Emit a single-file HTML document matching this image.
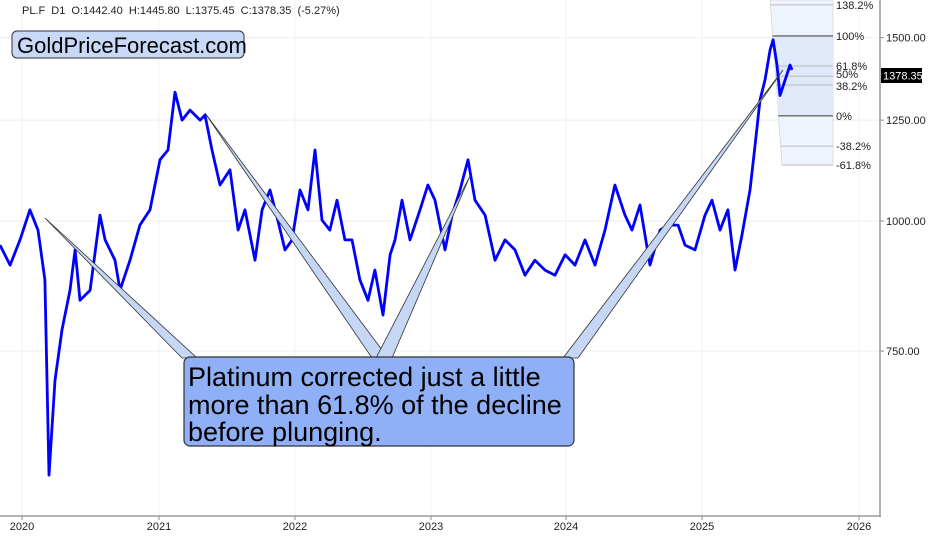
<!DOCTYPE html>
<html><head><meta charset="utf-8"><style>
body{margin:0;background:#fff;font-family:"Liberation Sans",sans-serif;}
svg{display:block}
</style></head><body>
<svg id="chart" width="945" height="538" font-family="Liberation Sans, sans-serif">
<g id="grid"></g>
<g id="fib"></g>
<path id="price" fill="none" stroke="#0000ff" stroke-width="2.8" stroke-linejoin="round"/>
<g id="axes"></g>
<g id="callouts"></g>
<text x="22" y="14" font-size="11" fill="#222" word-spacing="3">PL.F D1 O:1442.40 H:1445.80 L:1375.45 C:1378.35 (-5.27%)</text>
<g>
<rect x="12" y="31" width="232" height="27" rx="5" fill="#c8d9f8" stroke="#333" stroke-width="1"/>
<text x="17" y="53" font-size="22" fill="#000">GoldPriceForecast.com</text></g>
<g>
<rect x="184" y="357" width="390" height="89" rx="6" fill="#8fb0f6" stroke="#333" stroke-width="1.2"/>
<text font-size="27" fill="#000"><tspan x="188" y="386">Platinum corrected just a little</tspan><tspan x="188" y="414">more than 61.8% of the decline</tspan><tspan x="188" y="441">before plunging.</tspan></text></g>
</svg>
<script>
const years=[2019.853,2019.927,2020.0,2020.073,2020.132,2020.183,2020.213,2020.257,2020.308,2020.367,2020.404,2020.44,2020.514,2020.587,2020.624,2020.697,2020.734,2020.807,2020.88,2020.954,2021.027,2021.086,2021.137,2021.189,2021.247,2021.321,2021.357,2021.409,2021.467,2021.541,2021.6,2021.651,2021.724,2021.776,2021.834,2021.893,2021.944,2021.996,2022.054,2022.113,2022.164,2022.216,2022.274,2022.326,2022.384,2022.436,2022.494,2022.553,2022.604,2022.663,2022.715,2022.751,2022.803,2022.861,2022.935,2022.993,2023.045,2023.118,2023.17,2023.228,2023.287,2023.338,2023.412,2023.485,2023.558,2023.632,2023.705,2023.778,2023.852,2023.925,2023.999,2024.072,2024.145,2024.219,2024.292,2024.365,2024.439,2024.49,2024.549,2024.622,2024.696,2024.754,2024.828,2024.879,2024.952,2025.026,2025.077,2025.136,2025.194,2025.246,2025.297,2025.356,2025.393,2025.429,2025.466,2025.503,2025.525,2025.554,2025.576,2025.613,2025.649,2025.664];
const prices=[948,907,959,1025,980,878,570,703,786,858,938,839,858,1013,959,917,858,917,991,1025,1145,1170,1330,1250,1278,1250,1264,1170,1083,1120,980,1025,917,1025,1071,1000,938,959,1071,1025,1170,1002,980,1047,959,959,878,839,897,812,928,959,1047,959,1025,1083,1047,938,1013,1071,1145,1047,1013,917,959,938,887,917,897,887,928,907,959,907,980,1083,1013,980,1036,907,980,991,991,948,938,1013,1047,980,1025,897,970,1071,1183,1307,1366,1460,1493,1412,1320,1366,1412,1397];
const yearTicks=[2020,2021,2022,2023,2024,2025,2026];
const tickX=[22,159,295,431,566,702,859];
const priceTicks=[1500,1250,1000,750];
const fibLevels=["138.2%","100%","61.8%","50%","38.2%","0%","-38.2%","-61.8%"];
const fibPrices=[1613,1506,1409,1378,1351,1262,1180,1132];
const ns="http://www.w3.org/2000/svg";
function X(t){return 20+(t-2020)*136.3;}
function Y(p){return 221-452*Math.log(p/1000);}
function mk(tag,attrs,parent){const e=document.createElementNS(ns,tag);for(const k in attrs)e.setAttribute(k,attrs[k]);parent.appendChild(e);return e;}
const grid=document.getElementById('grid'),axes=document.getElementById('axes'),fib=document.getElementById('fib');
priceTicks.forEach(p=>{const l=mk('line',{x1:0,x2:880,y1:Y(p),y2:Y(p),stroke:'#eeeeee'},grid);


const t=mk('text',{x:886,y:Y(p)+4,'font-size':11,fill:'#222'},axes);t.textContent=p.toFixed(2);


mk('line',{x1:880,x2:884,y1:Y(p),y2:Y(p),stroke:'#888'},axes);});
yearTicks.forEach((yr,i)=>{const x=tickX[i];const l=mk('line',{x1:x,x2:x,y1:0,y2:516,stroke:'#f0f0f0'},grid);


mk('line',{x1:x,x2:x,y1:516,y2:520,stroke:'#888'},axes);
const t=mk('text',{x:x,y:530,'font-size':11,fill:'#222','text-anchor':'middle'},axes);t.textContent=yr;

});
mk('line',{x1:0,x2:881,y1:516,y2:516,stroke:'#999','stroke-width':1.5},axes);
mk('line',{x1:880,x2:880,y1:0,y2:517,stroke:'#999','stroke-width':1.5},axes);
const lb=mk('rect',{x:881,y:68,width:41,height:15,fill:'#000'},axes);


const lt=mk('text',{x:883,y:79.5,'font-size':11,fill:'#fff'},axes);lt.textContent='1378.35';
// fib
const yTop=0,yBot=Y(fibPrices[7]);
mk('polygon',{points:`770,${yTop} 833,${yTop} 833,${yBot} 782,${yBot}`,fill:'#eef4fd',stroke:'#ccc','stroke-width':0.6},fib);
mk('polygon',{points:`773,${Y(fibPrices[1])} 833,${Y(fibPrices[1])} 833,${Y(fibPrices[5])} 778,${Y(fibPrices[5])}`,fill:'#dfe9fa'},fib);
fibLevels.forEach((lv,i)=>{const y=Y(fibPrices[i]);const x0=770+12*(y-yTop)/(yBot-yTop);
const major=(lv==='100%'||lv==='0%');
const l=mk('line',{x1:x0,x2:833,y1:y,y2:y,stroke:major?'#666':'#bbb','stroke-width':major?1.3:1},fib);


const t=mk('text',{x:836,y:y+(lv==='50%'?2:lv==='38.2%'?5:4),'font-size':11,fill:'#222'},fib);t.textContent=lv;

});
// price path
let d='';years.forEach((t,i)=>{d+=(i?'L':'M')+X(t).toFixed(1)+','+Y(prices[i]).toFixed(1);});
document.getElementById('price').setAttribute('d',d);
// callouts
const co=document.getElementById('callouts');
[[45,218,182,358,197,358],[205,113,372,358,388,358],[470,176,376,358,392,358],[783,70,563,358,578,358]].forEach(c=>{
const p=mk('polygon',{points:`${c[0]},${c[1]} ${c[2]},${c[3]} ${c[4]},${c[5]}`,fill:'#c6d7f6',stroke:'#333','stroke-width':0.8},co);

});
</script>
</body></html>
